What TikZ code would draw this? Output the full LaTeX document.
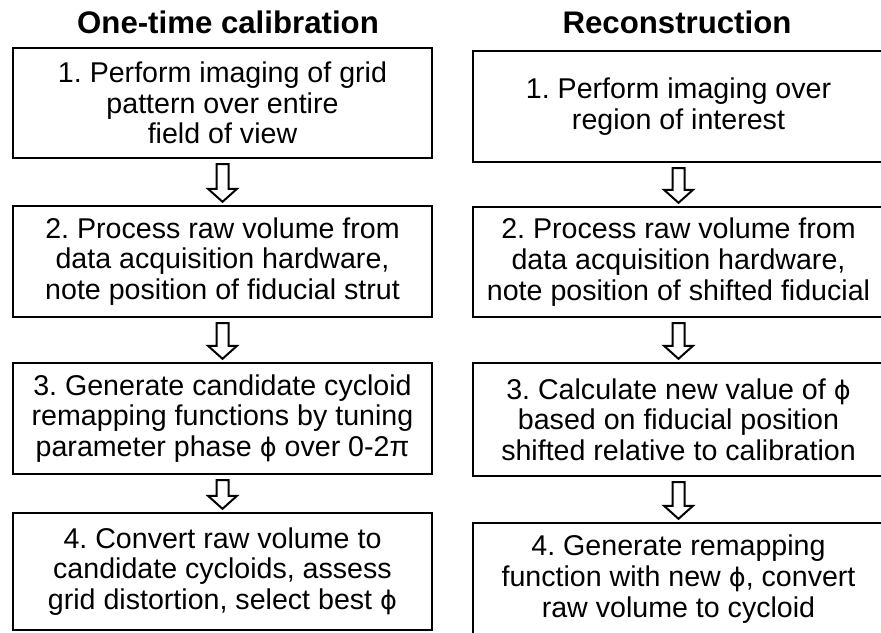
\documentclass[tikz,border=0pt]{standalone}
\usepackage{fontspec}
\setmainfont{Liberation Sans}
\newfontfamily\greekfont{DejaVu Sans}
\newcommand{\phase}{{\greekfont\fontsize{12.8}{15}\selectfont ϕ}}
\frenchspacing
\usetikzlibrary{calc}

% hollow block arrow from the bottom of one step to the top of the next
\newcommand{\steparrow}[2]{%
  \draw[hollowarrow] ($(#1.south)+(-6,5)$) -- ($(#2.north)+(-6,-16)$) -- ($(#2.north)+(-14.5,-16)$) -- ($(#2.north)+(0,-3)$) -- ($(#2.north)+(14.5,-16)$) -- ($(#2.north)+(6,-16)$) -- ($(#1.south)+(6,5)$) -- cycle;}

\begin{document}
\begin{tikzpicture}[x=0.5pt,y=0.5pt,yscale=-1,xscale=1,
    stepbox/.style={draw, line width=1.2pt, align=center, inner sep=0pt,
      font=\fontsize{14.3}{15.3}\selectfont},
    leftbox/.style={stepbox, minimum width=209.5pt},
    rightbox/.style={stepbox, minimum width=205.5pt},
    coltitle/.style={anchor=base, inner sep=0pt, font=\fontsize{15.6}{17}\selectfont\bfseries},
    hollowarrow/.style={draw, line width=1pt, fill=white, line join=miter}]
            \clip (0,0) rectangle (881,632);
            % column headings
            \node [coltitle] (calib) at (228,33) {One-time calibration};
            \node [coltitle] (recon) at (677,33) {Reconstruction};
            % one-time calibration
            \node [leftbox, minimum height=55pt] (c1) at (222.5,103) {1. Perform imaging of grid\\pattern over entire\\field of view};
            \node [leftbox, minimum height=55.5pt] (c2) at (222.5,261.5) {2. Process raw volume from\\data acquisition hardware,\\note position of fiducial strut};
            \node [leftbox, minimum height=55.5pt] (c3) at (222.5,418.5) {3. Generate candidate cycloid\\remapping functions by tuning\\parameter phase \phase{} over 0-2π};
            \node [leftbox, minimum height=58.5pt] (c4) at (222.5,571.5) {4. Convert raw volume to\\candidate cycloids, assess\\grid distortion, select best \phase};
            % reconstruction
            \node [rightbox, minimum height=55.5pt] (r1) at (678.5,106.5) {1. Perform imaging over\\region of interest};
            \node [rightbox, minimum height=55pt] (r2) at (678.5,262) {2. Process raw volume from\\data acquisition hardware,\\note position of shifted fiducial};
            \node [rightbox, minimum height=56.5pt] (r3) at (678.5,419.5) {3. Calculate new value of \phase\\based on fiducial position\\shifted relative to calibration};
            \node [rightbox, minimum height=56pt] (r4) at (678.5,579) {4. Generate remapping\\function with new \phase, convert\\raw volume to cycloid};
            % arrows between the steps
            \steparrow{c1}{c2}
            \steparrow{c2}{c3}
            \steparrow{c3}{c4}
            \steparrow{r1}{r2}
            \steparrow{r2}{r3}
            \steparrow{r3}{r4}
\end{tikzpicture}
\end{document}
